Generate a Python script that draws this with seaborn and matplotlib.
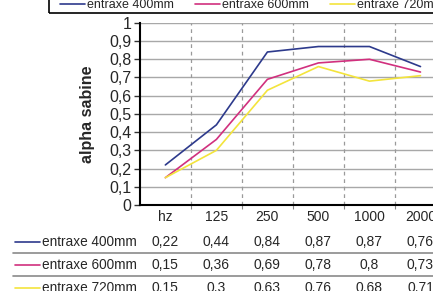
import matplotlib.pyplot as plt
import matplotlib.lines as mlines
import matplotlib.patches as mpatches
import matplotlib.transforms as mtransforms
import pandas as pd
import seaborn as sns

# chart data
freqs = ['hz', '125', '250', '500', '1000', '2000']
series = ['entraxe 400mm', 'entraxe 600mm', 'entraxe 720mm']
alpha_400 = [0.22, 0.44, 0.84, 0.87, 0.87, 0.76]
alpha_600 = [0.15, 0.36, 0.69, 0.78, 0.80, 0.73]
alpha_720 = [0.15, 0.30, 0.63, 0.76, 0.68, 0.71]
colors = ['#2d3a8c', '#d1307e', '#f3e43c']

df = pd.DataFrame({
    'freq': freqs * 3,
    'alpha': alpha_400 + alpha_600 + alpha_720,
    'serie': [s for s in series for _ in freqs],
})

sns.set_style('white')
plt.rcParams['font.family'] = ['Liberation Sans', 'DejaVu Sans']

W, H = 433, 291
fig = plt.figure(figsize=(W / 100, H / 100), dpi=100)
ax = fig.add_axes([0.323, 0.2955, 0.707, 0.626])

sns.lineplot(data=df, x='freq', y='alpha', hue='serie', palette=colors,
             linewidth=1.2, ax=ax, legend=False, sort=False)

ax.set_xlim(-0.5, len(freqs) - 0.5)
ax.set_ylim(0, 1)
ax.set_yticks([i / 10 for i in range(11)])
ax.set_yticklabels(['0'] + [f'0,{i}' for i in range(1, 10)] + ['1'], fontsize=11.5)
ax.set_xticks([i + 0.5 for i in range(len(freqs) - 1)])
ax.set_xticklabels([])
ax.tick_params(axis='y', direction='out', length=4, width=1, color='#333333', pad=2, left=True)
ax.tick_params(axis='x', direction='out', length=3, width=0.8, color='#888888', bottom=True)

# grid: solid horizontal, dashed vertical
for v in ax.get_yticks()[1:]:
    ax.axhline(v, color='#a8a8a8', lw=1, zorder=0)
for xv in ax.get_xticks():
    ax.axvline(xv, color='#9a9a9a', lw=0.9, ls=(0, (3, 3)), zorder=0)

for s in ['top', 'right']:
    ax.spines[s].set_visible(False)
for s in ['left', 'bottom']:
    ax.spines[s].set_color('black')
    ax.spines[s].set_linewidth(1.5)

ax.set_xlabel('')
ax.set_ylabel('alpha sabine', fontsize=11.5, fontweight='bold', labelpad=10)

# legend on top (box drawn separately, it runs off the top/right edge)
fig.add_artist(mpatches.Rectangle((49 / W, 1 - 13 / H), 0.9, 0.2, transform=fig.transFigure,
                                  fill=False, edgecolor='black', lw=1.2))
handles = [mlines.Line2D([], [], color=c, lw=1.2) for c in colors]
fig.legend(handles, series, loc='center left', bbox_to_anchor=(60 / W, 1 - 5 / H),
           ncol=3, fontsize=9, frameon=False,
           handlelength=2.0, handletextpad=0.15, columnspacing=1.7,
           borderpad=0, borderaxespad=0)

# data table below
trans = mtransforms.blended_transform_factory(ax.transData, fig.transFigure)
for i, f in enumerate(freqs):
    ax.text(i, 1 - 217 / H, f, transform=trans, ha='center', va='center', fontsize=10)
rows = [alpha_400, alpha_600, alpha_720]
row_y = [242, 265, 288]
for vals, name, c, y in zip(rows, series, colors, row_y):
    yf = 1 - y / H
    for i, v in enumerate(vals):
        txt = f'{v:g}'.replace('.', ',')
        ax.text(i, yf, txt, transform=trans, ha='center', va='center', fontsize=10)
    fig.add_artist(mlines.Line2D([15 / W, 40 / W], [yf, yf], color=c, lw=1.2))
    fig.text(42 / W, yf, name, ha='left', va='center', fontsize=9.8)
for y in [253, 276]:
    yf = 1 - y / H
    fig.add_artist(mlines.Line2D([13 / W, 1], [yf, yf], color='#8a8a8a', lw=1.2))

fig.savefig('out.png', dpi=100)
